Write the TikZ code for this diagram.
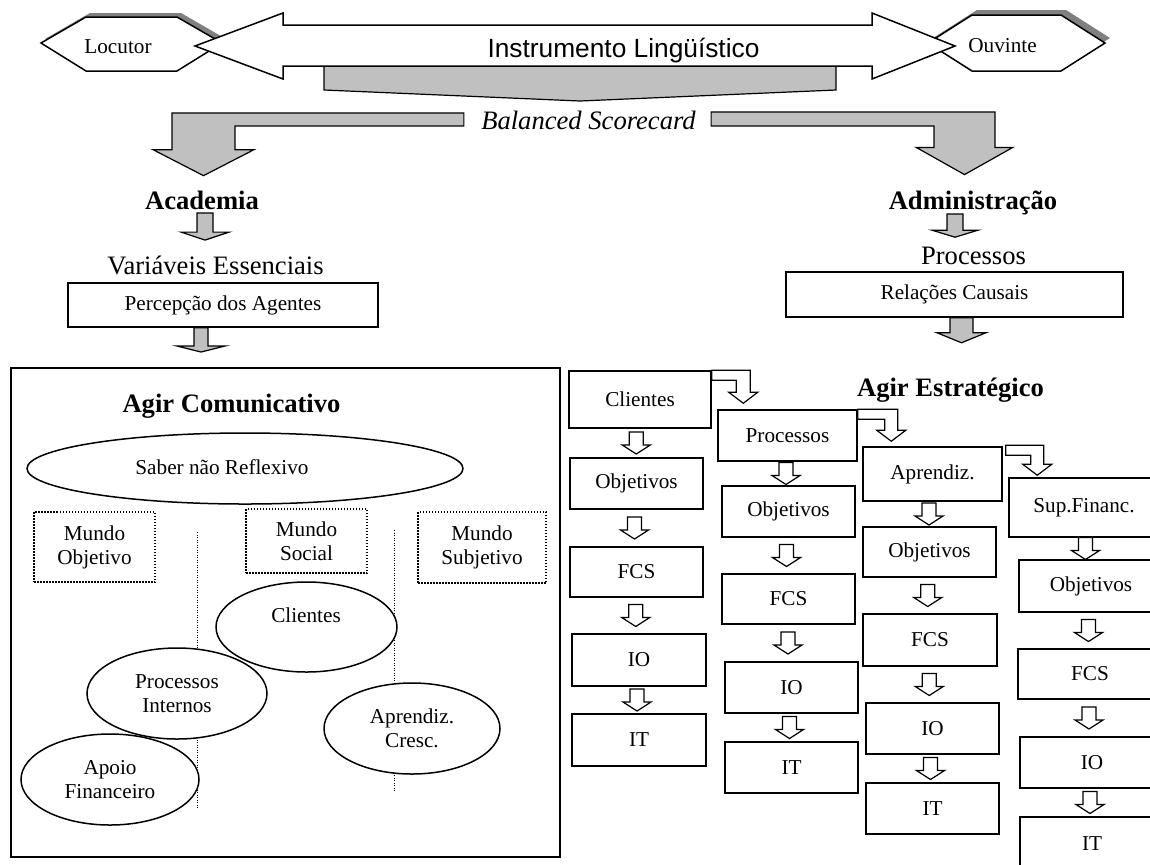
\documentclass[tikz,border=0pt]{standalone}
\usepackage{fontspec}
\setmainfont{Liberation Serif}
\newfontfamily\arialfont{Liberation Sans}
\usepackage{tikz}
\usetikzlibrary{shapes.geometric, calc}
\definecolor{cinzaclaro}{HTML}{C0C0C0}
\definecolor{sombra}{HTML}{808080}

\tikzset{
  pequeno/.style={font=\fontsize{10.6}{12}\selectfont},
  grande/.style={font=\fontsize{13.3}{15}\selectfont, inner sep=0pt},
  titulo/.style={font=\fontsize{13.3}{15}\selectfont\bfseries, inner sep=0pt},
  caixa/.style={draw, line width=0.75pt, fill=white, pequeno, inner sep=0pt},
  caixapont/.style={draw, line width=0.75pt, dash pattern=on 0.75pt off 0.75pt, fill=white, pequeno, align=center, inner sep=0pt},
  oval/.style={draw, ellipse, line width=0.75pt, fill=white, pequeno, align=center, inner sep=0pt},
  seta/.style={draw, line width=0.6pt, fill=white},
  setacinza/.style={draw, line width=0.6pt, fill=cinzaclaro},
  divisoria/.style={line width=0.5pt, dash pattern=on 0.5pt off 0.75pt},
}

% block arrow pointing down: start, apex, shaft half, head half, head length
\newcommand{\setabaixo}[6][seta]{%
  \path[#1] let \p1=(#2), \p2=(#3) in
    ({\x1-#4},\y1) -- ({\x1+#4},\y1) -- ({\x1+#4},{\y2+#6}) -- ({\x1+#5},{\y2+#6})
    -- (\x1,\y2) -- ({\x1-#5},{\y2+#6}) -- ({\x1-#4},{\y2+#6}) -- cycle;}
% bent block arrow: bar start (top edge), apex, bar thickness, shaft width, head half, head length
\newcommand{\setacurva}[7][seta]{%
  \path[#1] let \p1=(#2), \p2=(#3) in
    (\x1,\y1) -- ({\x2+#5/2},\y1) -- ({\x2+#5/2},{\y2+#7}) -- ({\x2+#6},{\y2+#7})
    -- (\x2,\y2) -- ({\x2-#6},{\y2+#7}) -- ({\x2-#5/2},{\y2+#7})
    -- ({\x2-#5/2},{\y1-#4}) -- (\x1,{\y1-#4}) -- cycle;}

\begin{document}
\begin{tikzpicture}[x=0.5pt, y=-0.5pt]
    \useasboundingbox (0,0) rectangle (1150,864);
    \clip (0,0) rectangle (1150,864);

    % Locutor and Ouvinte with their shadows
    \fill[sombra] (45,39) -- (90,13) -- (181,13) -- (226,39) -- (181,67) -- (90,67) -- cycle;
    \draw[fill=white, line width=0.75pt] (41,43) -- (86,17) -- (177,17) -- (222,43) -- (177,71) -- (86,71) -- cycle;
    \fill[sombra] (933,38) -- (977,10) -- (1066,10) -- (1110,38) -- (1066,66) -- (977,66) -- cycle;
    \draw[fill=white, line width=0.75pt] (928,43) -- (972,15) -- (1061,15) -- (1105,43) -- (1061,71) -- (972,71) -- cycle;

    % Funnel and the double arrow
    \draw[setacinza] (324,66) -- (324,90) -- (580,101) -- (836,90) -- (836,66) -- cycle;
    \draw[seta, line width=0.75pt] (195,46) -- (283,13) -- (283,25) -- (872,25) -- (872,13) -- (955,46)
        -- (872,79) -- (872,66) -- (283,66) -- (283,79) -- cycle;

    \node[pequeno, inner sep=0pt, anchor=base] (locutor) at (118,53.5) {Locutor};
    \node[pequeno, inner sep=0pt, anchor=base] (ouvinte) at (1002.5,52) {Ouvinte};
    \node[font=\fontsize{13.15}{15}\selectfont\arialfont, inner sep=0pt, anchor=base] (instr) at (623.5,57) {Instrumento Lingüístico};
    \node[grande, anchor=base, font=\fontsize{13.3}{15}\selectfont\itshape] (bsc) at (588.5,129) {Balanced Scorecard};

    % Titles
    \node[titulo, anchor=base] (academia) at (202,209) {Academia};
    \node[grande, anchor=base] (variaveis) at (215.5,274) {Variáveis Essenciais};
    \node[caixa, minimum width=155pt, minimum height=22pt] (percepcao) at (223,305) {Percepção dos Agentes};
    \node[titulo, anchor=base] (admin) at (973,209) {Administração};
    \node[grande, anchor=base] (proctit) at (973.5,264) {Processos};
    \node[caixa, minimum width=168.5pt, minimum height=22.5pt] (relacoes) at (954.5,294.5) {Relações Causais};

    % Gray arrows
    \setacurva[setacinza]{$(bsc.west)+(-17,-7)$}{$(academia.north)+(1.5,-14.5)$}{6.5pt}{(-31.5pt)}{(-25.25pt)}{13pt}
    \setacurva[setacinza]{$(bsc.east)+(15,-8)$}{$(admin.north)+(-8.5,-15.5)$}{7pt}{30.5pt}{24pt}{13.5pt}
    \setabaixo[setacinza]{$(academia.base)+(3,4)$}{$(variaveis.north)+(0,-15)$}{4pt}{12pt}{4pt}
    \setabaixo[setacinza]{$(admin.base)+(-18,5)$}{$(proctit.north)+(0,-9)$}{4pt}{11.5pt}{3.5pt}

    % Agir Comunicativo
    \node[draw, line width=1pt, minimum width=274.5pt, minimum height=244.5pt, inner sep=0pt] (agircombox) at (285.5,612.5) {};
    \setabaixo[setacinza]{$(percepcao.south)+(-22,0)$}{$(agircombox.north)+(0,-15)$}{3.5pt}{12pt}{3pt}
    \node[titulo, anchor=base] (agircom) at (231.5,412) {Agir Comunicativo};

    \node[oval, minimum width=218pt, minimum height=35.5pt] (saber) at (245,468.5) {};
    \node[pequeno, inner sep=0pt, anchor=base] (sabertxt) at (222,474) {Saber não Reflexivo};

    \node[caixapont, minimum width=60.5pt, minimum height=35pt] (mobj) at (94.5,547) {Mundo\\Objetivo};
    \node[caixapont, minimum width=60.5pt, minimum height=32pt] (msoc) at (306.5,541) {Mundo\\Social};
    \node[caixapont, minimum width=64pt, minimum height=35.5pt] (msub) at (482,547.5) {Mundo\\Subjetivo};

    \draw[divisoria] (197,532) -- (197,809);
    \draw[divisoria] (394,530) -- (394,792);

    \node[oval, minimum width=90.5pt, minimum height=45pt] (clientesov) at (306.5,627) {};
    \node[pequeno, inner sep=0pt, anchor=base] (clientestxt) at (306,622) {Clientes};
    \node[oval, minimum width=90pt, minimum height=45.5pt] (processosov) at (177,693.5) {Processos\\Internos};
    \node[oval, minimum width=89pt, minimum height=45.5pt] (apoioov) at (110,779.5) {Apoio\\Financeiro};
    \node[oval, minimum width=88pt, minimum height=45.5pt] (aprendov) at (412,728.5) {Aprendiz.\\Cresc.};

    % Agir Estrategico
    \setabaixo[setacinza]{$(relacoes.south)+(7,0)$}{$(relacoes.south)+(7,25)$}{5.75pt}{12.25pt}{5pt}
    \node[titulo, anchor=base] (agirest) at (950.5,396) {Agir Estratégico};

    \node[caixa, minimum width=71pt, minimum height=28.5pt] (clientes1) at (640,399.5) {Clientes};
    \node[caixa, minimum width=66.5pt, minimum height=25.5pt] (obj1) at (636.5,483.5) {Objetivos};
    \node[caixa, minimum width=66.5pt, minimum height=25pt] (fcs1) at (636.5,572) {FCS};
    \node[caixa, minimum width=67pt, minimum height=26pt] (io1) at (639,660) {IO};
    \node[caixa, minimum width=67pt, minimum height=26pt] (it1) at (639,740) {IT};

    \node[caixa, minimum width=69.5pt, minimum height=25.5pt] (proc2) at (787.5,435.5) {Processos};
    \node[caixa, minimum width=66.5pt, minimum height=25.5pt] (obj2) at (788.5,511.5) {Objetivos};
    \node[caixa, minimum width=66.5pt, minimum height=25pt] (fcs2) at (788.5,599) {FCS};
    \node[caixa, minimum width=66.5pt, minimum height=25.5pt] (io2) at (791.5,687.5) {IO};
    \node[caixa, minimum width=66.5pt, minimum height=25.5pt] (it2) at (791.5,767.5) {IT};

    \node[caixa, minimum width=69.5pt, minimum height=27pt] (apr3) at (932.5,474) {Aprendiz.};
    \node[caixa, minimum width=66.5pt, minimum height=25pt] (obj3) at (929.5,552) {Objetivos};
    \node[caixa, minimum width=67pt, minimum height=26pt] (fcs3) at (930,640) {FCS};
    \node[caixa, minimum width=66.5pt, minimum height=25.5pt] (io3) at (932.5,728.5) {IO};
    \node[caixa, minimum width=66.5pt, minimum height=25.5pt] (it3) at (932.5,808.5) {IT};

    \node[caixa, minimum width=75pt, minimum height=29.5pt] (sup4) at (1084,507.5) {Sup.Financ.};
    \node[caixa, minimum width=72pt, minimum height=26pt] (obj4) at (1091,586) {Objetivos};
    \node[caixa, minimum width=72pt, minimum height=25pt] (fcs4) at (1090,674) {FCS};
    \node[caixa, minimum width=72pt, minimum height=25.5pt] (io4) at (1092,762.5) {IO};
    \node[caixa, minimum width=72pt, minimum height=26.5pt] (it4) at (1092,843.5) {IT};

    % arrows inside each column
    \foreach \a/\b in {clientes1/obj1, obj1/fcs1, fcs1/io1, io1/it1,
                       proc2/obj2, obj2/fcs2, fcs2/io2, io2/it2,
                       apr3/obj3, obj3/fcs3, fcs3/io3, io3/it3,
                       sup4/obj4, obj4/fcs4, fcs4/io4, io4/it4}
        \setabaixo{$(\a.south)!0.5!(\b.north)+(-2,-11)$}{$(\a.south)!0.5!(\b.north)+(0,11)$}{3.5pt}{7pt}{4.5pt};

    % arrows from one column to the next
    \setacurva{clientes1.north east}{$(proc2.north west)+(26,-6)$}{5pt}{7pt}{7.25pt}{5.5pt}
    \setacurva{proc2.north east}{$(apr3.north west)+(29,-5)$}{5pt}{6.5pt}{7.25pt}{5.5pt}
    \setacurva{$(apr3.north east)+(3,-1)$}{$(sup4.north west)+(29,-2)$}{5pt}{6.5pt}{7.25pt}{5.5pt}
\end{tikzpicture}
\end{document}
